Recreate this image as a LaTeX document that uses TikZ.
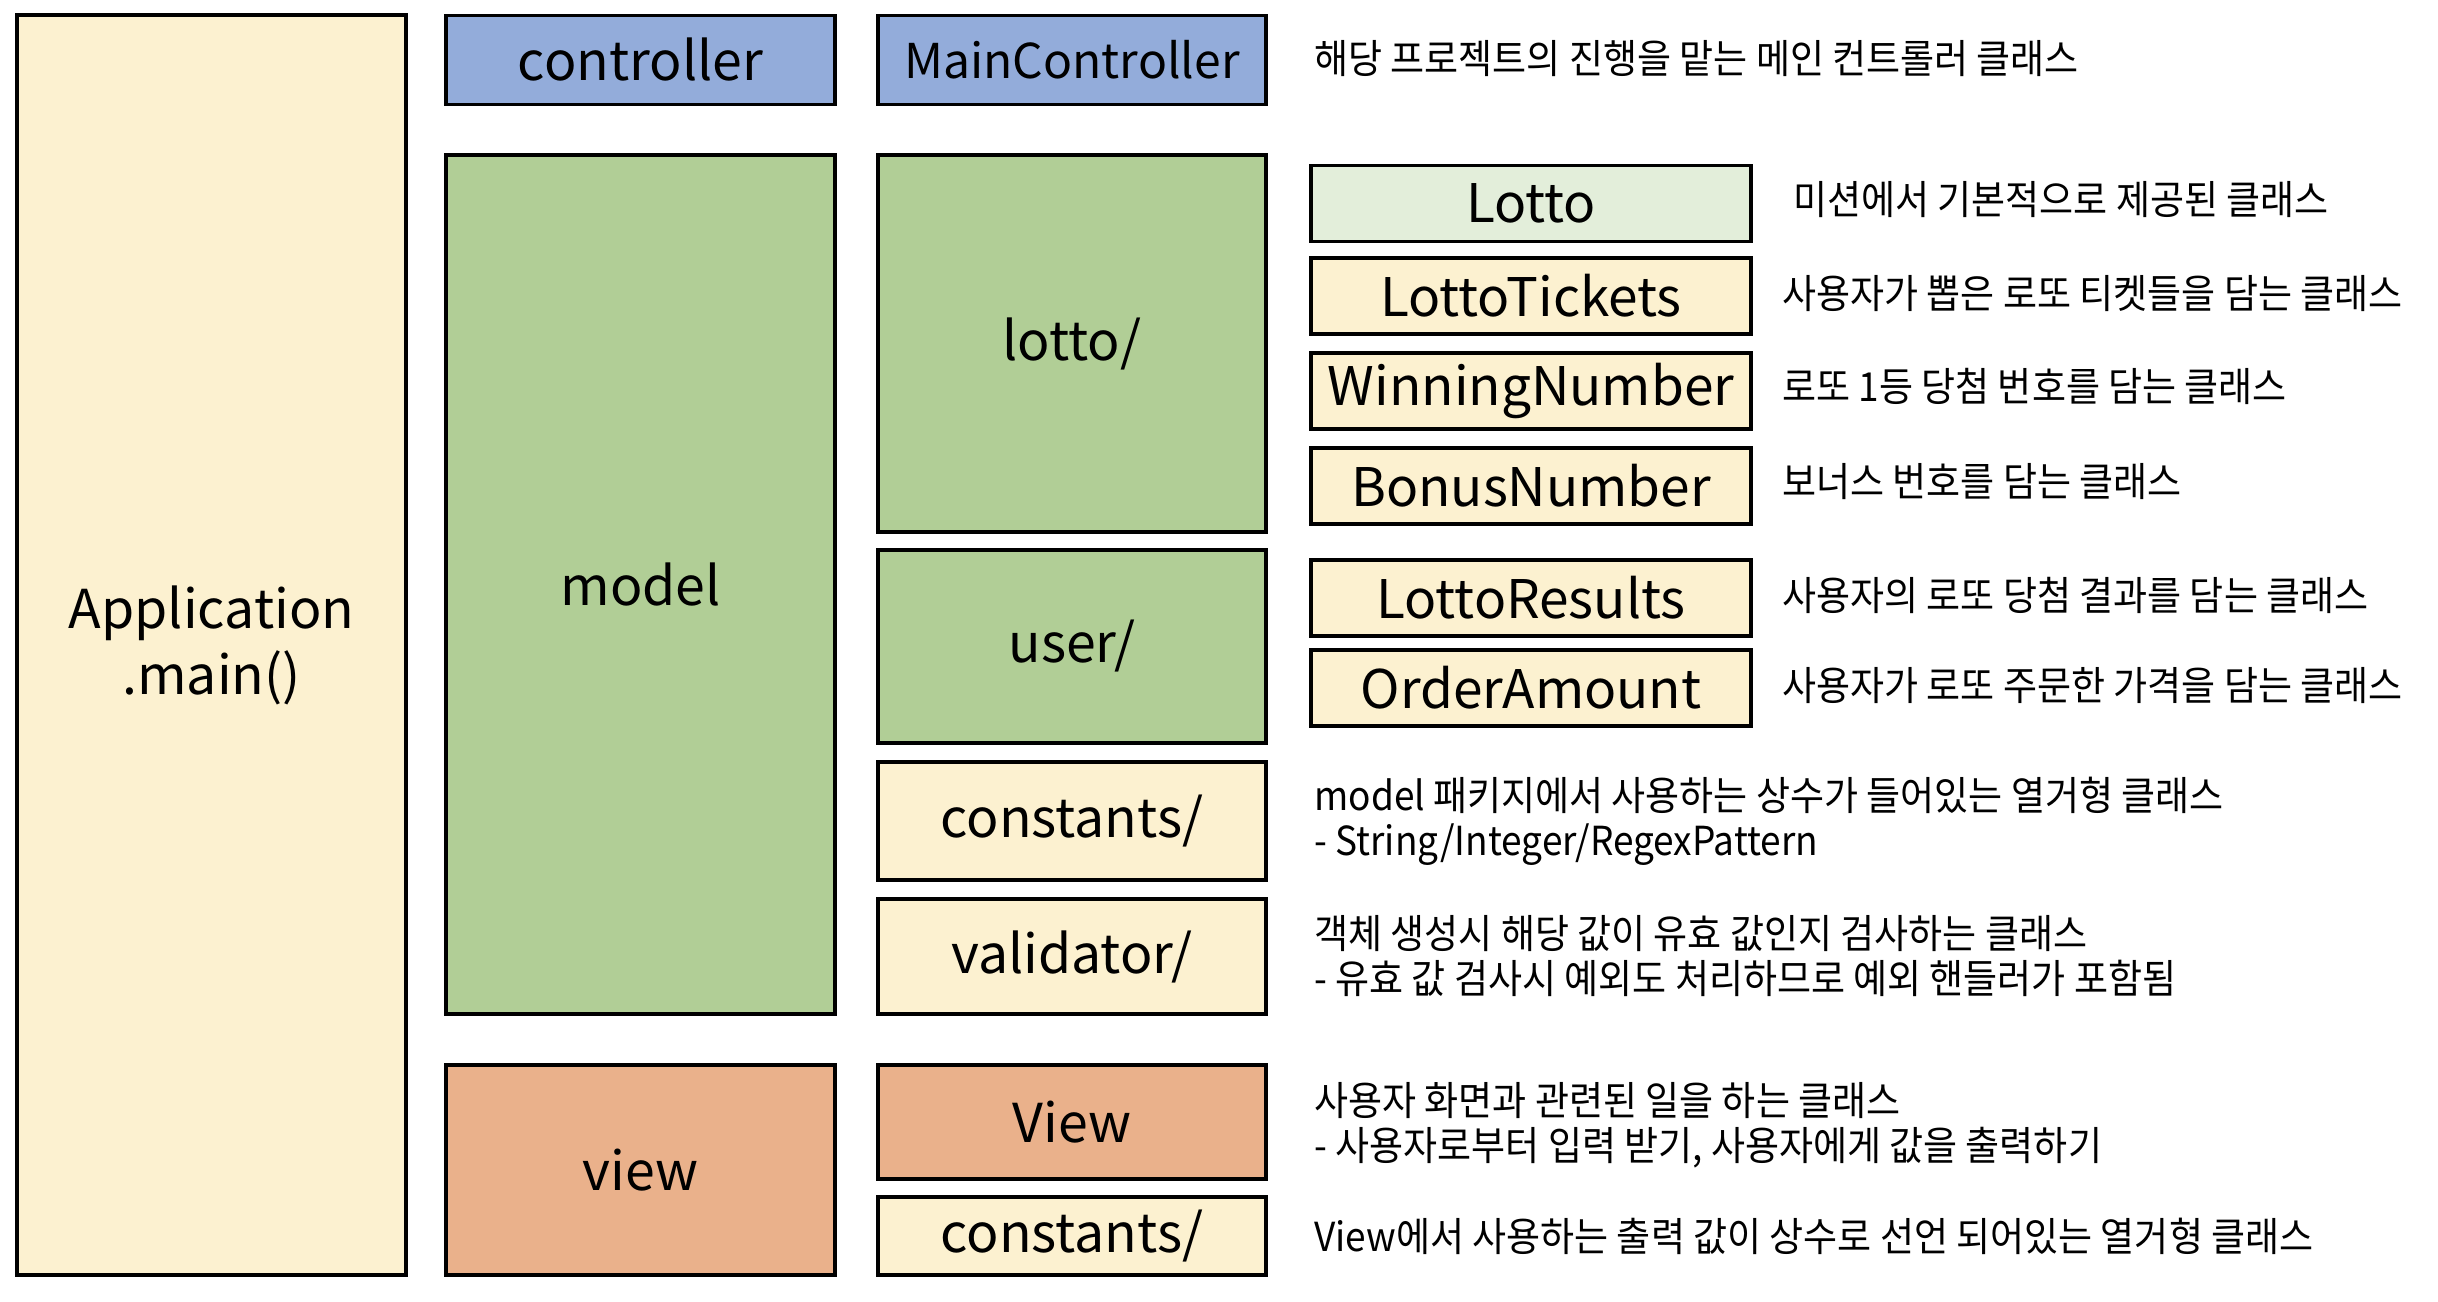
\documentclass[tikz,border=0pt]{standalone}
\usepackage{fontspec}
\setmainfont{Noto Sans CJK KR}
\newfontfamily\descfont[FakeStretch=0.925]{Noto Sans CJK KR}
\definecolor{cream}{HTML}{FCF1D0}
\definecolor{cblue}{HTML}{93ACDA}
\definecolor{cgreen}{HTML}{B1CE96}
\definecolor{lgreen}{HTML}{E3EEDA}
\definecolor{corange}{HTML}{EAB18B}
\begin{document}
\begin{tikzpicture}[x=0.5pt,y=-0.5pt,
  box/.style={draw=black,line width=1.7pt,inner sep=0pt,align=center},
  big/.style={font=\fontsize{26.8pt}{33pt}\selectfont},
  mid/.style={font=\fontsize{24pt}{28pt}\selectfont},
  cls/.style={box,fill=cream,minimum width=220pt,minimum height=38pt,font=\fontsize{26.6pt}{32pt}\selectfont},
  desc/.style={anchor=west,inner sep=0pt,align=left,font=\descfont\fontsize{20pt}{22.5pt}\selectfont}]
\fill[white] (0,0) rectangle (2438,1302);
\useasboundingbox (0,0) rectangle (2438,1302);
% column 1
\node[box,big,fill=cream,minimum width=194.5pt,minimum height=630pt] (app) at (211.5,645) {Application\\.main()};
% column 2
\node[box,big,fill=cblue,minimum width=194.5pt,minimum height=44.5pt] (ctrl) at (640.5,60) {controller};
\node[box,big,fill=cgreen,minimum width=194.5pt,minimum height=429.5pt] (model) at (640.5,584.5) {model};
\node[box,big,fill=corange,minimum width=194.5pt,minimum height=105pt] (view) at (640.5,1170) {view};
% column 3
\node[box,mid,fill=cblue,minimum width=194pt,minimum height=44.5pt] (mainctrl) at (1072,60) {MainController};
\node[box,big,fill=cgreen,minimum width=194pt,minimum height=188.5pt] (lotto) at (1072,343.5) {lotto/};
\node[box,big,fill=cgreen,minimum width=194pt,minimum height=96.5pt] (user) at (1072,646.5) {user/};
\node[box,big,fill=cream,minimum width=194pt,minimum height=59pt] (mconst) at (1072,821) {constants/};
\node[box,big,fill=cream,minimum width=194pt,minimum height=57.5pt] (valid) at (1072,956.5) {validator/};
\node[box,big,fill=corange,minimum width=194pt,minimum height=57pt] (viewcls) at (1072,1122) {View};
\node[box,big,fill=cream,minimum width=194pt,minimum height=39pt] (vconst) at (1072,1236) {constants/};
% column 4
\node[cls,fill=lgreen] (clotto) at (1531,203.5) {Lotto};
\node[cls] (ctickets) at (1531,296) {LottoTickets};
\node[cls] (cwin) at (1531,391) {WinningNumber};
\node[cls] (cbonus) at (1531,486) {BonusNumber};
\node[cls] (cresults) at (1531,598) {LottoResults};
\node[cls] (corder) at (1531,688) {OrderAmount};
% descriptions
\node[desc] (dmain) at (1314,59) {해당 프로젝트의 진행을 맡는 메인 컨트롤러 클래스};
\node[desc] (dlotto) at (1793,200) {미션에서 기본적으로 제공된 클래스};
\node[desc] (dtickets) at (1782,294) {사용자가 뽑은 로또 티켓들을 담는 클래스};
\node[desc] (dwin) at (1782,386) {로또 1등 당첨 번호를 담는 클래스};
\node[desc] (dbonus) at (1782,482) {보너스 번호를 담는 클래스};
\node[desc] (dresults) at (1782,595) {사용자의 로또 당첨 결과를 담는 클래스};
\node[desc] (dorder) at (1782,686) {사용자가 로또 주문한 가격을 담는 클래스};
\node[desc] (dmconst) at (1314,821) {model 패키지에서 사용하는 상수가 들어있는 열거형 클래스\\- String/Integer/RegexPattern};
\node[desc] (dvalid) at (1314,956) {객체 생성시 해당 값이 유효 값인지 검사하는 클래스\\- 유효 값 검사시 예외도 처리하므로 예외 핸들러가 포함됨};
\node[desc] (dview) at (1314,1125) {사용자 화면과 관련된 일을 하는 클래스\\- 사용자로부터 입력 받기, 사용자에게 값을 출력하기};
\node[desc] (dvconst) at (1314,1236) {View에서 사용하는 출력 값이 상수로 선언 되어있는 열거형 클래스};
\end{tikzpicture}
\end{document}
